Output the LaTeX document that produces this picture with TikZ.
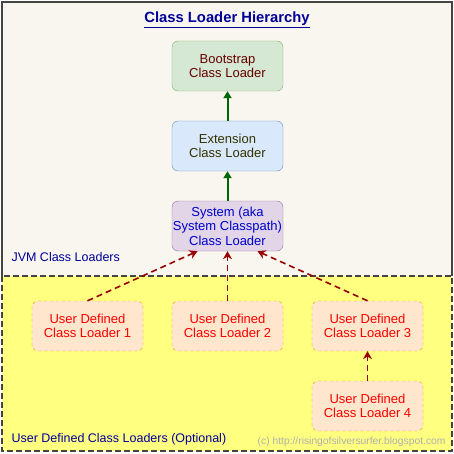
\documentclass[tikz,border=0pt]{standalone}
\usepackage{fontspec}
\setmainfont{Liberation Sans}
\usetikzlibrary{arrows.meta}
\definecolor{bgtop}{HTML}{F8F6EF}
\definecolor{bgyel}{HTML}{FFFF80}
\definecolor{frame}{HTML}{444444}
\definecolor{gfill}{HTML}{D5E8D4}\definecolor{gdraw}{HTML}{82B366}
\definecolor{bfill}{HTML}{DAE8FC}\definecolor{bdraw}{HTML}{6C8EBF}
\definecolor{pfill}{HTML}{E1D5E7}\definecolor{pdraw}{HTML}{9673A6}
\definecolor{ofill}{HTML}{FFE6CC}\definecolor{odraw}{HTML}{D79B00}
\definecolor{arrg}{HTML}{006600}
\definecolor{arrr}{HTML}{990000}
\definecolor{titleblue}{HTML}{000099}
\begin{document}
\begin{tikzpicture}[x=1pt,y=-1pt,
  box/.style={rounded corners=6pt,minimum width=111pt,minimum height=50pt,align=center,font=\fontsize{13}{14.5}\selectfont,inner sep=0pt},
  jvm/.style={box},
  udbox/.style={box,fill=ofill,draw=odraw,dashed,text=red},
  garr/.style={-{Triangle[length=7pt,width=8pt]},arrg,line width=2pt},
  rarr/.style={-{Stealth[length=8pt,width=9pt]},arrr,line width=1.6pt,dash pattern=on 6pt off 4pt},
  lbl/.style={anchor=west,font=\fontsize{12.5}{14}\selectfont}]
\useasboundingbox (0,0) rectangle (454,454);
\fill[bgtop] (2,2) rectangle (452,276);
\fill[bgyel] (2,276) rectangle (452,451);
\draw[frame,line width=1.2pt] (2,276) -- (2,2) -- (452,2) -- (452,276);
\draw[frame,line width=2pt,dash pattern=on 6pt off 3pt] (2,276) rectangle (452,451);
\node[font=\bfseries\fontsize{14.8}{17}\selectfont,text=titleblue] (title) at (227,20) {\underline{Class Loader Hierarchy}};
\node[jvm,fill=gfill,draw=gdraw,text={rgb,255:red,102;green,0;blue,0}] (boot) at (227.5,66) {Bootstrap\\Class Loader};
\node[jvm,fill=bfill,draw=bdraw,text={rgb,255:red,51;green,51;blue,0}] (ext) at (227.5,146) {Extension\\Class Loader};
\node[jvm,fill=pfill,draw=pdraw,text={rgb,255:red,0;green,0;blue,204}] (sys) at (227.5,226) {System (aka\\System Classpath)\\Class Loader};
\node[lbl,text=titleblue] (jvmlbl) at (8,257) {JVM Class Loaders};
\node[udbox] (u1) at (87.5,326) {User Defined\\Class Loader 1};
\node[udbox] (u2) at (227.5,326) {User Defined\\Class Loader 2};
\node[udbox] (u3) at (367.5,326) {User Defined\\Class Loader 3};
\node[udbox] (u4) at (367.5,406) {User Defined\\Class Loader 4};
\node[lbl,text=titleblue] (udlbl) at (8,439) {User Defined Class Loaders (Optional)};
\node[anchor=east,font=\fontsize{10.3}{12}\selectfont,text={rgb,255:red,175;green,175;blue,175}] (copy) at (449,442) {(c) http://risingofsilversurfer.blogspot.com};
\draw[garr] (ext.north) -- (boot.south);
\draw[garr] (sys.north) -- (ext.south);
\draw[rarr] (u1.north) -- ([xshift=-30pt]sys.south);
\draw[rarr] (u2.north) -- (sys.south);
\draw[rarr] (u3.north) -- ([xshift=30pt]sys.south);
\draw[rarr] (u4.north) -- (u3.south);
\end{tikzpicture}
\end{document}
